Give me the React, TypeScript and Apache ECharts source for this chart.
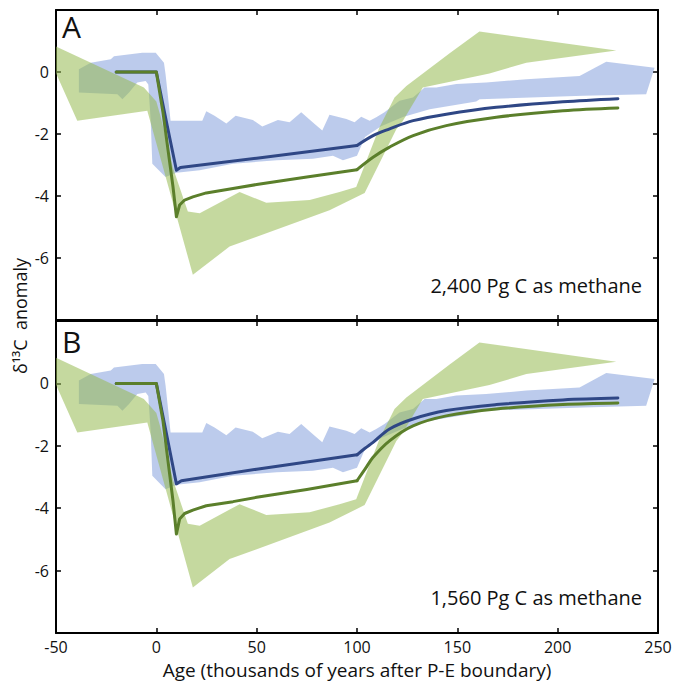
import React, { useEffect, useRef } from "react";
import * as echarts from "echarts";

const X_MIN = -50;
const X_MAX = 250;
const X_STEP = 50;
const Y_MIN = -8;
const Y_MAX = 2;
const Y_STEP = 2;

// Proxy-record envelopes (same in both panels): polygon outlines [age, d13C]
const blueBand: number[][] = [
  [-38.6, 0.09], [-32.7, 0.3], [-22.7, 0.41], [-21.1, 0.51], [-7, 0.62], [-0.3, 0.62],
  [3.8, 0.3], [4.6, -0.07], [7.1, -1.57], [22.9, -1.57], [24.9, -1.27], [29, -1.41],
  [34.9, -1.66], [39.5, -1.41], [48.1, -1.55], [52.8, -1.76], [60.6, -1.55], [66.4, -1.62],
  [72.2, -1.3], [78.9, -1.68], [82.7, -1.89], [86.3, -1.38], [94.7, -1.52], [98.8, -1.62],
  [102.1, -1.44], [106.3, -1.57], [109.6, -1.46], [113.7, -1.3], [121.2, -0.93], [127.9, -0.82],
  [133.7, -0.5], [139.5, -0.5], [149.5, -0.39], [164.4, -0.34], [184.4, -0.23], [210.9, -0.13],
  [224.2, 0.33], [248.3, 0.14], [244.1, -0.72], [212.6, -0.77], [161.1, -0.88], [159.4, -0.95],
  [136.2, -1.2], [122.9, -1.45], [112, -1.75], [104, -2.1], [100, -2.7], [93, -2.85],
  [88, -2.7], [78, -2.8], [60, -2.85], [38.2, -2.96], [21.6, -3.17], [10, -3.25],
  [4.6, -3.39], [-2, -2.96], [-2.8, -1.57], [-4, -0.4], [-5.3, -0.29], [-9.5, -0.34],
  [-13.6, -0.66], [-16.9, -0.88], [-19.4, -0.72], [-38.6, -0.66],
];

const greenBand: number[][] = [
  [-51, 0.85], [-6.2, -0.5], [0, -0.95], [2, -1.4], [8.3, -3.1], [15.7, -4.5], [21.6, -4.56],
  [41.5, -3.87], [54.8, -4.22], [76.4, -4.13], [91.3, -3.87], [99.6, -3.71], [111.2, -1.78],
  [118.7, -0.82], [124.6, -0.45], [146, 0.6], [161, 1.31], [229.2, 0.69],
  [184.4, 0.3], [166, -0.05], [132.8, -0.5], [122.9, -1.57], [119.6, -1.85], [103.8, -3.9],
  [86.3, -4.46], [36.5, -5.63], [18.2, -6.54], [-4.5, -1.25], [-39.4, -1.57], [-51, 0.1],
];

// Model curves
const greenA: number[][] = [
  [-20, 0], [0, 0], [3.3, -1.3], [8.3, -3.7], [10, -4.67], [11.6, -4.29], [14.1, -4.13],
  [18.2, -4.03], [24.9, -3.9], [38.2, -3.76], [50, -3.63], [75, -3.39], [100, -3.15],
  [108, -2.75], [116, -2.43], [128, -2.05], [144.5, -1.73], [169.4, -1.46], [202.6, -1.25], [230, -1.16],
];
const blueA: number[][] = [
  [-20, 0], [0, 0], [5, -1.6], [10, -3.17], [12, -3.08], [50, -2.78], [100, -2.37],
  [108, -2.05], [116, -1.84], [128, -1.57], [144.5, -1.36], [169.4, -1.14], [202.6, -0.96], [230, -0.86],
];
const greenB: number[][] = [
  [-20, 0], [0, 0], [3.3, -1.2], [8.3, -3.76], [10, -4.83], [11.6, -4.35], [14.1, -4.17],
  [18.2, -4.06], [24.9, -3.92], [38.2, -3.79], [50, -3.65], [75, -3.4], [100, -3.12],
  [104, -2.75], [108, -2.37], [116.2, -1.84], [127.9, -1.36], [144.5, -1.04], [169.4, -0.82],
  [202.6, -0.68], [230, -0.63],
];
const blueB: number[][] = [
  [-20, 0], [0, 0], [5, -1.6], [10, -3.22], [12.5, -3.12], [50, -2.75], [100, -2.29],
  [104, -2.08], [108, -1.89], [116.2, -1.46], [127.9, -1.14], [144.5, -0.87], [169.4, -0.68],
  [202.6, -0.53], [230, -0.47],
];

const panelLetters = ["A", "B"];
const panelNotes = ["2,400 Pg C as methane", "1,560 Pg C as methane"];
const xTitle = "Age (thousands of years after P-E boundary)";
const yTitle = "δ¹³C  anomaly";

const FONT = "'Open Sans', 'Noto Sans', sans-serif";
const BLUE_BAND = "rgba(121,151,217,0.5)";
const GREEN_BAND = "rgba(150,186,80,0.55)";
const BLUE_LINE = "#2f4785";
const GREEN_LINE = "#5b7f2b";
const KINK = 100; // the curves bend sharply here and are smooth afterwards

export default function App() {
  const ref = useRef<HTMLDivElement>(null);
  useEffect(() => {
    const chart = echarts.init(ref.current!, null, { renderer: "svg" });

    const grids = [
      { left: 56, right: 17, top: 10, height: 310 },
      { left: 56, right: 17, top: 321, height: 312 },
    ];

    const axisLine = { show: true, onZero: false, lineStyle: { color: "#000", width: 2 } };
    const axisTick = { show: true, inside: true, length: 5, lineStyle: { color: "#000", width: 1.5 } };

    const xAxis: any[] = [];
    const yAxis: any[] = [];
    [0, 1].forEach((g) => {
      ["bottom", "top"].forEach((pos) => {
        xAxis.push({
          type: "value", gridIndex: g, position: pos, min: X_MIN, max: X_MAX, interval: X_STEP,
          axisLine, axisTick, splitLine: { show: false },
          axisLabel: g === 1 && pos === "bottom"
            ? { show: true, margin: 6, color: "#111", fontSize: 16, fontFamily: FONT }
            : { show: false },
        });
      });
      ["left", "right"].forEach((pos) => {
        yAxis.push({
          type: "value", gridIndex: g, position: pos, min: Y_MIN, max: Y_MAX, interval: Y_STEP,
          axisLine, axisTick, splitLine: { show: false },
          axisLabel: pos === "left"
            ? { show: true, margin: 7, color: "#111", fontSize: 16, fontFamily: FONT, showMinLabel: false, showMaxLabel: false }
            : { show: false },
        });
      });
    });

    const band = (data: number[][], g: number, fill: string) => ({
      type: "custom",
      xAxisIndex: g * 2,
      yAxisIndex: g * 2,
      clip: true,
      silent: true,
      data,
      renderItem: (params: any, api: any) => {
        if (params.dataIndex !== 0) return null;
        const pts = data.map((p) => api.coord(p));
        return { type: "polygon", shape: { points: pts }, style: { fill } };
      },
    });

    const line = (data: number[][], g: number, color: string, smooth: number) => ({
      type: "line",
      xAxisIndex: g * 2,
      yAxisIndex: g * 2,
      data,
      symbol: "none",
      showSymbol: false,
      clip: true,
      silent: true,
      smooth,
      lineStyle: { color, width: 3, cap: "round", join: "round" },
    });

    const split = (data: number[][], g: number, color: string) => [
      line(data.filter((p) => p[0] <= KINK), g, color, 0),
      line(data.filter((p) => p[0] >= KINK), g, color, 0.35),
    ];

    const series: any[] = [];
    [[blueA, greenA], [blueB, greenB]].forEach(([b, gr], g) => {
      series.push(band(blueBand, g, BLUE_BAND));
      series.push(band(greenBand, g, GREEN_BAND));
      series.push(...split(b, g, BLUE_LINE));
      series.push(...split(gr, g, GREEN_LINE));
    });

    const graphic: any[] = [];
    const letterY = [26, 341];
    const noteY = [285, 597];
    [0, 1].forEach((g) => {
      graphic.push({
        type: "text", x: 62, y: letterY[g],
        style: { text: panelLetters[g], fontSize: 30, fontFamily: FONT, fill: "#111", align: "left", verticalAlign: "middle" },
      });
      graphic.push({
        type: "text", x: 642, y: noteY[g],
        style: { text: panelNotes[g], fontSize: 20, fontFamily: FONT, fill: "#111", align: "right", verticalAlign: "middle" },
      });
    });
    graphic.push({
      type: "text", x: 357, y: 670,
      style: { text: xTitle, fontSize: 19, fontFamily: FONT, fill: "#111", align: "center", verticalAlign: "middle" },
    });
    graphic.push({
      type: "text", x: 20, y: 316, rotation: Math.PI / 2,
      style: { text: yTitle, fontSize: 18, fontFamily: FONT, fill: "#111", align: "center", verticalAlign: "middle" },
    });

    chart.setOption({
      animation: false,
      backgroundColor: "#fff",
      grid: grids,
      xAxis,
      yAxis,
      series,
      graphic,
    });
    return () => chart.dispose();
  }, []);
  return <div ref={ref} style={{ position: "fixed", left: 0, top: 0, width: 675, height: 686 }} />;
}
